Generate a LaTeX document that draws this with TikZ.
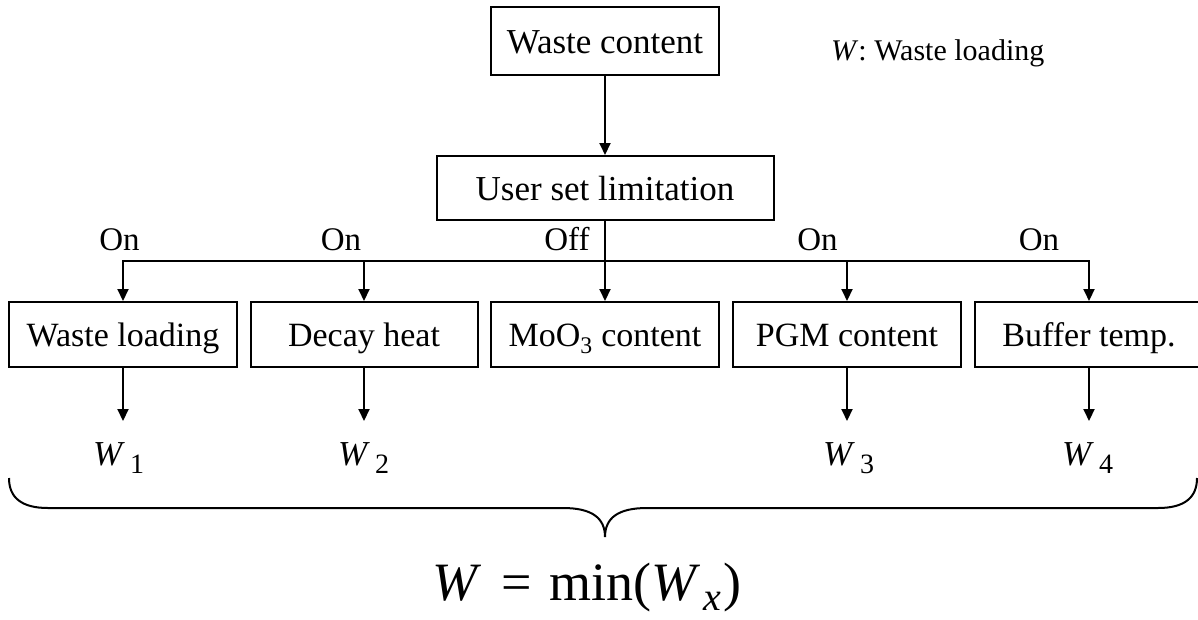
\documentclass[tikz,border=0pt]{standalone}
\usepackage{fontspec}
\setmainfont{Liberation Serif}
\usetikzlibrary{arrows.meta}
\newcommand\wsub[1]{\textit{W}\kern5pt\raisebox{-8pt}{\fontsize{28}{28}\selectfont #1}}
\begin{document}
\begin{tikzpicture}[x=1pt,y=-1pt,
  box/.style={draw, line width=2pt, minimum width=228pt, minimum height=65pt, inner sep=0pt},
  topf/.style={font=\fontsize{35}{40}\selectfont, text height=32.5pt, text depth=8pt},
  botf/.style={font=\fontsize{34}{40}\selectfont, text height=31pt, text depth=8pt},
  lab/.style={anchor=base, inner sep=0pt, font=\fontsize{33}{38}\selectfont},
  wlab/.style={anchor=base west, inner sep=0pt, font=\fontsize{35}{40}\selectfont},
  arr/.style={line width=2pt, -{Triangle[width=11pt,length=12pt]}},
  ln/.style={line width=2pt}]
\useasboundingbox (0,0) rectangle (1198,619);
\clip (0,0) rectangle (1198,619);
\fill[white] (0,0) rectangle (1198,619);

% boxes
\node[box, topf, minimum height=68pt] (wc) at (605,41) {Waste content};
\node[box, topf, minimum width=337pt, minimum height=64pt] (usl) at (605,188) {User set limitation};
\node[box, botf] (b1) at (123,334.5) {Waste loading};
\node[box, botf, minimum width=227pt] (b2) at (364,334.5) {Decay heat};
\node[box, botf] (b3) at (605,334.5) {MoO\textsubscript{3} content};
\node[box, botf] (b4) at (847,334.5) {PGM content};
\node[box, botf] (b5) at (1089,334.5) {Buffer temp.};

% legend
\node[anchor=base west, inner sep=0pt, font=\fontsize{30}{34}\selectfont] (leg) at (831,60) {\textit{W}: Waste loading};

% switch labels
\node[lab] (on1) at (119.5,250) {On};
\node[lab] (on2) at (341,250) {On};
\node[lab] (off3) at (567,250) {Off};
\node[lab] (on4) at (817.5,250) {On};
\node[lab] (on5) at (1039,250) {On};

% connectors
\coordinate (bus) at (605,261);
\coordinate (lvl) at (0,421);
\draw[arr] (wc.south) -- (usl.north);
\draw[arr] (usl.south) -- (b3.north);
\draw[ln, line cap=rect] (b1.north |- bus) -- (b5.north |- bus);
\draw[arr] (b1.north |- bus) -- (b1.north);
\draw[arr] (b2.north |- bus) -- (b2.north);
\draw[arr] (b4.north |- bus) -- (b4.north);
\draw[arr] (b5.north |- bus) -- (b5.north);

\coordinate (a1) at (b1.south |- lvl);
\coordinate (a2) at (b2.south |- lvl);
\coordinate (a4) at (b4.south |- lvl);
\coordinate (a5) at (b5.south |- lvl);
\draw[arr] (b1.south) -- (a1);
\draw[arr] (b2.south) -- (a2);
\draw[arr] (b4.south) -- (a4);
\draw[arr] (b5.south) -- (a5);

% results
\node[wlab] (w1) at (93,465) {\wsub{1}};
\node[wlab] (w2) at (338,465) {\wsub{2}};
\node[wlab] (w3) at (823,465) {\wsub{3}};
\node[wlab] (w4) at (1062,465) {\wsub{4}};

% brace
\coordinate (tip) at (605,537);
\draw[ln] (9,478) .. controls (9,498) and (22,508) .. (48,508) -- (563,508)
  .. controls (592,508) and (605,518) .. (tip)
  .. controls (605,518) and (618,508) .. (647,508) -- (1158,508)
  .. controls (1184,508) and (1197,498) .. (1197,478);

% formula
\node[anchor=base west, inner sep=0pt, font=\fontsize{54}{60}\selectfont] (wmin) at (432,600)
  {\textit{W}\hspace{20pt}=\hspace{18pt}min(\textit{W}\kern3pt\raisebox{-10pt}{\fontsize{40}{40}\selectfont\textit{x}}\kern2pt)};
\end{tikzpicture}
\end{document}
